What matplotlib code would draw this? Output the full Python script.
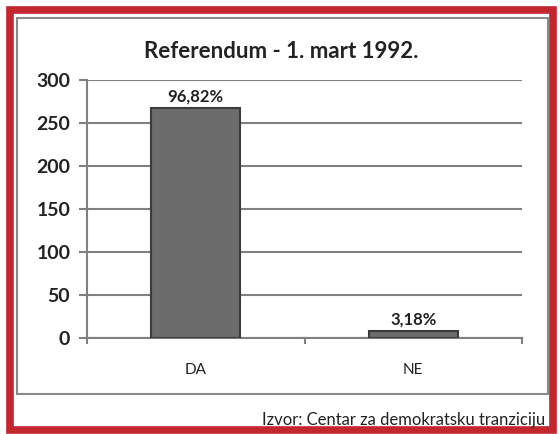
import matplotlib
matplotlib.use("Agg")
import matplotlib.pyplot as plt
from matplotlib.patches import Rectangle

# Referendum results (labels as printed)
categories = ["DA", "NE"]
values = [268, 8]
labels = ["96,82%", "3,18%"]
yticks = [0, 50, 100, 150, 200, 250, 300]

plt.rcParams['font.family'] = ['Lato', 'DejaVu Sans']

W, H = 560, 434
fig = plt.figure(figsize=(W / 100, H / 100), dpi=100)
fig.patch.set_facecolor("white")

# outer red frame and inner gray chart frame
fig.patches.append(Rectangle((10 / W, 1 - 430 / H), 543 / W, 420 / H, transform=fig.transFigure,
                             fill=False, edgecolor="#c4262e", linewidth=5.5))
fig.patches.append(Rectangle((17 / W, 1 - 394 / H), 531 / W, 376 / H, transform=fig.transFigure,
                             fill=False, edgecolor="#8a8a8a", linewidth=1.5))

ax = fig.add_axes([87 / W, 1 - 338 / H, (522 - 87) / W, (338 - 80) / H])
x = range(len(categories))
bars = ax.bar(x, values, width=0.41, color="#6c6c6c", edgecolor="#3c3c3c", linewidth=1.5, zorder=3)

for b, lab in zip(bars, labels):
    ax.text(b.get_x() + b.get_width() / 2, b.get_height() + 4, lab, ha="center", va="bottom",
            fontsize=12, fontweight="bold", color="#222222")

ax.set_xlim(-0.5, 1.5)
ax.set_ylim(0, 300)
ax.set_yticks(yticks)
ax.set_yticklabels([str(t) for t in yticks], fontsize=14, fontweight="bold", color="#222222")
ax.set_xticks(list(x))
ax.set_xticklabels(categories, fontsize=11, color="#222222")
ax.tick_params(axis="x", length=0, pad=18)
ax.tick_params(axis="y", length=6, width=1.5, color="#808080", pad=6)
# small category boundary ticks on x axis
for xb in [-0.5, 0.5, 1.5]:
    ax.plot([xb, xb], [0, -6], color="#808080", linewidth=1.5, clip_on=False)

ax.yaxis.grid(True, color="#808080", linewidth=1.5, zorder=0)
ax.set_axisbelow(True)
for s in ["top", "right"]:
    ax.spines[s].set_visible(False)
for s in ["left", "bottom"]:
    ax.spines[s].set_color("#808080")
    ax.spines[s].set_linewidth(1.5)

fig.text(281 / W, 1 - 52 / H, "Referendum - 1. mart 1992.", ha="center", va="center",
         fontsize=16, fontweight="bold", color="#222222")
fig.text(545 / W, 1 - 420 / H, "Izvor: Centar za demokratsku tranziciju", ha="right", va="center",
         fontsize=12, color="#222222")

fig.savefig("out.png", dpi=100)
